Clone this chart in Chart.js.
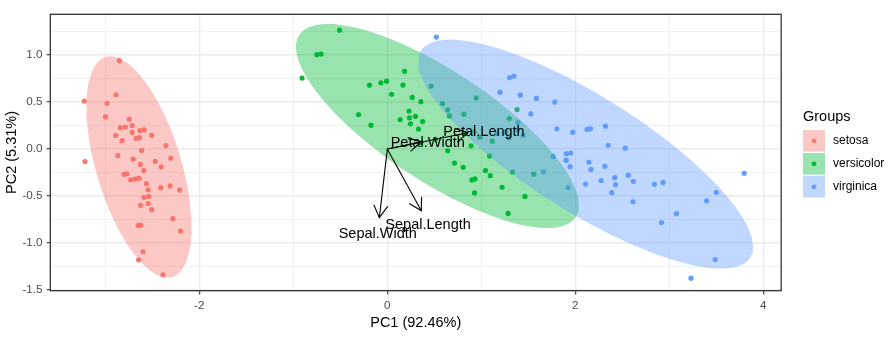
<!DOCTYPE html>
<html><head><meta charset="utf-8">
<script src="https://cdn.jsdelivr.net/npm/chart.js@4/dist/chart.umd.min.js"></script>
<style>html,body{margin:0;padding:0;background:#fff}#wrap{position:relative;width:893px;height:338px}</style>
</head><body><div id="wrap"><canvas id="c"></canvas></div>
<script>
// ---------- data ----------
const groups = ['setosa', 'versicolor', 'virginica'];
const groupColors = ['#F8766D', '#00BA38', '#619CFF'];
const groupFills = ['rgba(248,118,109,0.4)', 'rgba(0,186,56,0.4)', 'rgba(97,156,255,0.4)'];

const setosaPC1 = [-2.6841,-2.7141,-2.8890,-2.7453,-2.7287,-2.2809,-2.8205,-2.6261,-2.8864,-2.6728,-2.5069,-2.6128,-2.7861,-3.2238,-2.6448,-2.3860,-2.6235,-2.6483,-2.1998,-2.5880,-2.3103,-2.5437,-3.2159,-2.3027,-2.3558,-2.5067,-2.4688,-2.5623,-2.6395,-2.6320,-2.5874,-2.4099,-2.6489,-2.5987,-2.6369,-2.8662,-2.6252,-2.8007,-2.9805,-2.5900,-2.7701,-2.8494,-2.9974,-2.4056,-2.2095,-2.7145,-2.5381,-2.8395,-2.5431,-2.7034];
const setosaPC2 = [-0.3194,0.1770,0.1449,0.3183,-0.3268,-0.7413,0.0895,-0.1634,0.5783,0.1138,-0.6451,-0.0147,0.2351,0.5114,-1.1788,-1.3381,-0.8107,-0.3118,-0.8728,-0.5136,-0.3913,-0.4330,-0.1335,-0.0987,0.0373,0.1460,-0.1310,-0.3677,-0.3120,0.1970,0.2043,-0.4109,-0.8134,-1.0931,0.1213,-0.0694,-0.5994,-0.2686,0.4880,-0.2290,-0.2635,0.9410,0.3419,-0.1889,-0.4367,0.2502,-0.5038,0.2279,-0.5794,-0.1077];
const versicolorPC1 = [1.2848,0.9325,1.4643,0.1833,1.0881,0.6417,1.0951,-0.7491,1.0441,-0.0087,-0.5078,0.5117,0.2650,0.9849,-0.1739,0.9279,0.6603,0.2361,0.9447,0.0452,1.1163,0.3579,1.2982,0.9217,0.7149,0.9002,1.3320,1.5578,0.8133,-0.3056,-0.0681,-0.1896,0.1364,1.3800,0.5880,0.8069,1.2207,0.8151,0.2460,0.1664,0.4648,0.8908,0.2305,-0.7045,0.3570,0.3319,0.3762,0.6426,-0.9065,0.2990];
const versicolorPC2 = [-0.6852,-0.3183,-0.5043,0.8280,-0.0746,0.4182,-0.2835,1.0049,-0.2284,0.7231,1.2660,0.1040,0.5500,0.1248,0.2549,-0.4672,0.3530,0.3336,0.5431,0.5838,0.0846,0.0689,0.3278,0.1827,-0.1491,-0.3285,-0.2444,-0.2675,0.1634,0.3683,0.7052,0.6803,0.3140,0.4210,0.4843,-0.1942,-0.4076,0.3720,0.2685,0.6819,0.6707,0.0345,0.4044,1.0122,0.5049,0.2127,0.2932,-0.0177,0.7561,0.3489];
const virginicaPC1 = [2.5312,1.4152,2.6167,1.9715,2.3500,3.3970,0.5212,2.9326,2.3212,2.9168,1.6618,1.8034,2.1656,1.3462,1.5859,1.9045,1.9497,3.4871,3.7956,1.3008,2.4278,1.1990,3.4999,1.3888,2.2754,2.6141,1.2585,1.2911,2.1236,2.3880,2.8417,3.2307,2.1594,1.4442,1.7813,3.0765,2.1442,1.9051,1.1693,2.1076,2.3142,1.9223,1.4152,2.5630,2.4187,1.9441,1.5272,1.7643,1.9009,1.3902];
const virginicaPC2 = [0.0098,0.5749,-0.3439,0.1797,0.0403,-0.5508,1.1928,-0.3555,0.2438,-0.7828,-0.2422,0.2156,-0.2163,0.7768,0.5396,-0.1193,-0.0419,-1.1757,-0.2573,0.7611,-0.3782,0.6061,-0.4607,0.2044,-0.3350,-0.5609,0.1797,0.1167,0.2097,-0.4646,-0.3753,-1.3742,0.2173,0.1434,0.4999,-0.6881,-0.1401,-0.0493,0.1650,-0.3723,-0.1837,-0.4092,0.5749,-0.2779,-0.3048,-0.1875,0.3753,-0.0789,-0.1166,0.2827];

const varNames = ['Sepal.Length', 'Sepal.Width', 'Petal.Length', 'Petal.Width'];
const loadPC1 = [0.3614, -0.0845, 0.8567, 0.3583];
const loadPC2 = [-0.6566, -0.7302, 0.1734, 0.0755];
const labelScale = 1.2;

const xTicks = [-3, -2, -1, 0, 1, 2, 3, 4];
const xMajor = [-2, 0, 2, 4];
const yTicks = [-1.5, -1.25, -1, -0.75, -0.5, -0.25, 0, 0.25, 0.5, 0.75, 1, 1.25];
const yMajor = [-1.5, -1, -0.5, 0, 0.5, 1];
const xTitle = 'PC1 (92.46%)';
const yTitle = 'PC2 (5.31%)';
const legendTitle = 'Groups';
const ellipseLevel = 0.95;

// ---------- helpers ----------
const FAM = '"Liberation Sans", Arial, Helvetica, sans-serif';
const groupX = [setosaPC1, versicolorPC1, virginicaPC1];
const groupY = [setosaPC2, versicolorPC2, virginicaPC2];

function ellipsePoints(xs, ys, level, segs) {
  const n = xs.length;
  const mx = xs.reduce((a, b) => a + b, 0) / n;
  const my = ys.reduce((a, b) => a + b, 0) / n;
  let sxx = 0, syy = 0, sxy = 0;
  for (let i = 0; i < n; i++) {
    const dx = xs[i] - mx, dy = ys[i] - my;
    sxx += dx * dx; syy += dy * dy; sxy += dx * dy;
  }
  sxx /= (n - 1); syy /= (n - 1); sxy /= (n - 1);
  const nu = n - 1;
  const f = (nu / 2) * (Math.pow(1 - level, -2 / nu) - 1); // qf(level, 2, n-1)
  const r = Math.sqrt(2 * f);
  const r11 = Math.sqrt(sxx), r12 = sxy / r11, r22 = Math.sqrt(syy - r12 * r12);
  const pts = [];
  for (let k = 0; k <= segs; k++) {
    const t = 2 * Math.PI * k / segs;
    const c = Math.cos(t), s = Math.sin(t);
    pts.push({x: mx + r * c * r11, y: my + r * (c * r12 + s * r22)});
  }
  return pts;
}

const datasets = [];
groups.forEach((g, gi) => {
  datasets.push({
    type: 'scatter', label: g,
    data: groupX[gi].map((v, i) => ({x: v, y: groupY[gi][i]})),
    backgroundColor: groupColors[gi], borderColor: groupColors[gi],
    borderWidth: 0, pointRadius: 2.6, pointHoverRadius: 2.6, order: 12 - gi
  });
});
groups.forEach((g, gi) => {
  datasets.push({
    type: 'line', label: g + ' ellipse',
    data: ellipsePoints(groupX[gi], groupY[gi], ellipseLevel, 120),
    fill: 'shape', backgroundColor: groupFills[gi], borderColor: 'rgba(0,0,0,0)',
    borderWidth: 0, pointRadius: 0, tension: 0, order: 5 - gi
  });
});
varNames.forEach((v, i) => {
  datasets.push({
    type: 'line', label: v,
    data: [{x: 0, y: 0}, {x: loadPC1[i], y: loadPC2[i]}],
    borderColor: '#000', borderWidth: 1.1, pointRadius: 0, fill: false, order: 1
  });
});

const overlay = {
  id: 'overlay',
  afterDatasetsDraw(chart) {
    const ctx = chart.ctx, xs = chart.scales.x, ys = chart.scales.y;
    ctx.save();
    // arrow heads
    ctx.strokeStyle = '#000'; ctx.lineWidth = 1.1;
    const L = 14, A = Math.PI / 6;
    varNames.forEach((v, i) => {
      const x0 = xs.getPixelForValue(0), y0 = ys.getPixelForValue(0);
      const x1 = xs.getPixelForValue(loadPC1[i]), y1 = ys.getPixelForValue(loadPC2[i]);
      const th = Math.atan2(y1 - y0, x1 - x0);
      ctx.beginPath();
      ctx.moveTo(x1 - L * Math.cos(th - A), y1 - L * Math.sin(th - A));
      ctx.lineTo(x1, y1);
      ctx.lineTo(x1 - L * Math.cos(th + A), y1 - L * Math.sin(th + A));
      ctx.stroke();
    });
    // labels (centred on label point; baseline placed half a cap-height below)
    ctx.fillStyle = '#000';
    ctx.font = '14.5px ' + FAM;
    ctx.textAlign = 'center'; ctx.textBaseline = 'alphabetic';
    varNames.forEach((v, i) => {
      ctx.fillText(v, xs.getPixelForValue(labelScale * loadPC1[i]), ys.getPixelForValue(labelScale * loadPC2[i]) + 6.2);
    });
    // panel border
    const a = chart.chartArea;
    ctx.strokeStyle = '#333333'; ctx.lineWidth = 1.3;
    ctx.strokeRect(a.left, a.top, a.right - a.left, a.bottom - a.top);
    ctx.restore();
  },
  afterDraw(chart) {
    const ctx = chart.ctx;
    ctx.save();
    ctx.fillStyle = '#000';
    ctx.textAlign = 'left'; ctx.textBaseline = 'alphabetic';
    ctx.font = '14.5px ' + FAM;
    ctx.fillText(legendTitle, 803, 120.8);
    groups.forEach((g, gi) => {
      const top = 130 + gi * 23;
      ctx.fillStyle = groupFills[gi];
      ctx.fillRect(803, top, 22, 21.6);
      ctx.fillStyle = groupColors[gi];
      ctx.beginPath(); ctx.arc(814, top + 10.8, 2.4, 0, 2 * Math.PI); ctx.fill();
      ctx.fillStyle = '#000';
      ctx.font = '12px ' + FAM;
      ctx.textBaseline = 'middle';
      ctx.fillText(g, 833, top + 11);
    });
    ctx.restore();
  }
};

new Chart(document.getElementById('c'), {
  type: 'scatter',
  data: {datasets},
  options: {
    responsive: true, maintainAspectRatio: false, animation: false, devicePixelRatio: 1,
    layout: {padding: {top: 14.3, right: 111.8, left: 0, bottom: 0}},
    plugins: {legend: {display: false}, tooltip: {enabled: false}},
    events: [],
    scales: {
      x: {
        type: 'linear', min: -3.585, max: 4.19,
        afterBuildTicks: s => { s.ticks = xTicks.map(v => ({value: v})); },
        afterFit: s => { s.height = 47.3; },
        ticks: {
          autoSkip: false, maxRotation: 0, padding: 4, color: '#4D4D4D',
          font: {size: 11.7, family: FAM},
          callback: v => xMajor.includes(v) ? String(v) : ''
        },
        grid: {
          color: '#EBEBEB',
          lineWidth: c => (c.tick && xMajor.includes(c.tick.value)) ? 1.4 : 0.7,
          tickLength: 3.7,
          tickColor: c => (c.tick && xMajor.includes(c.tick.value)) ? '#333333' : 'rgba(0,0,0,0)',
          tickWidth: 1.1
        },
        border: {display: false},
        title: {display: true, text: xTitle, color: '#000', font: {size: 14.5, family: FAM}, padding: {top: 0, bottom: 6}}
      },
      y: {
        type: 'linear', min: -1.508, max: 1.435,
        afterBuildTicks: s => { s.ticks = yTicks.map(v => ({value: v})); },
        afterFit: s => { s.width = 50.3; },
        ticks: {
          autoSkip: false, padding: 4, color: '#4D4D4D',
          font: {size: 11.7, family: FAM},
          callback: v => yMajor.includes(v) ? v.toFixed(1) : ''
        },
        grid: {
          color: '#EBEBEB',
          lineWidth: c => (c.tick && yMajor.includes(c.tick.value)) ? 1.4 : 0.7,
          tickLength: 3.7,
          tickColor: c => (c.tick && yMajor.includes(c.tick.value)) ? '#333333' : 'rgba(0,0,0,0)',
          tickWidth: 1.1
        },
        border: {display: false},
        title: {display: true, text: yTitle, color: '#000', font: {size: 14.5, family: FAM}, padding: {top: 3.3, bottom: 0}}
      }
    }
  },
  plugins: [overlay]
});
</script>
</body></html>
